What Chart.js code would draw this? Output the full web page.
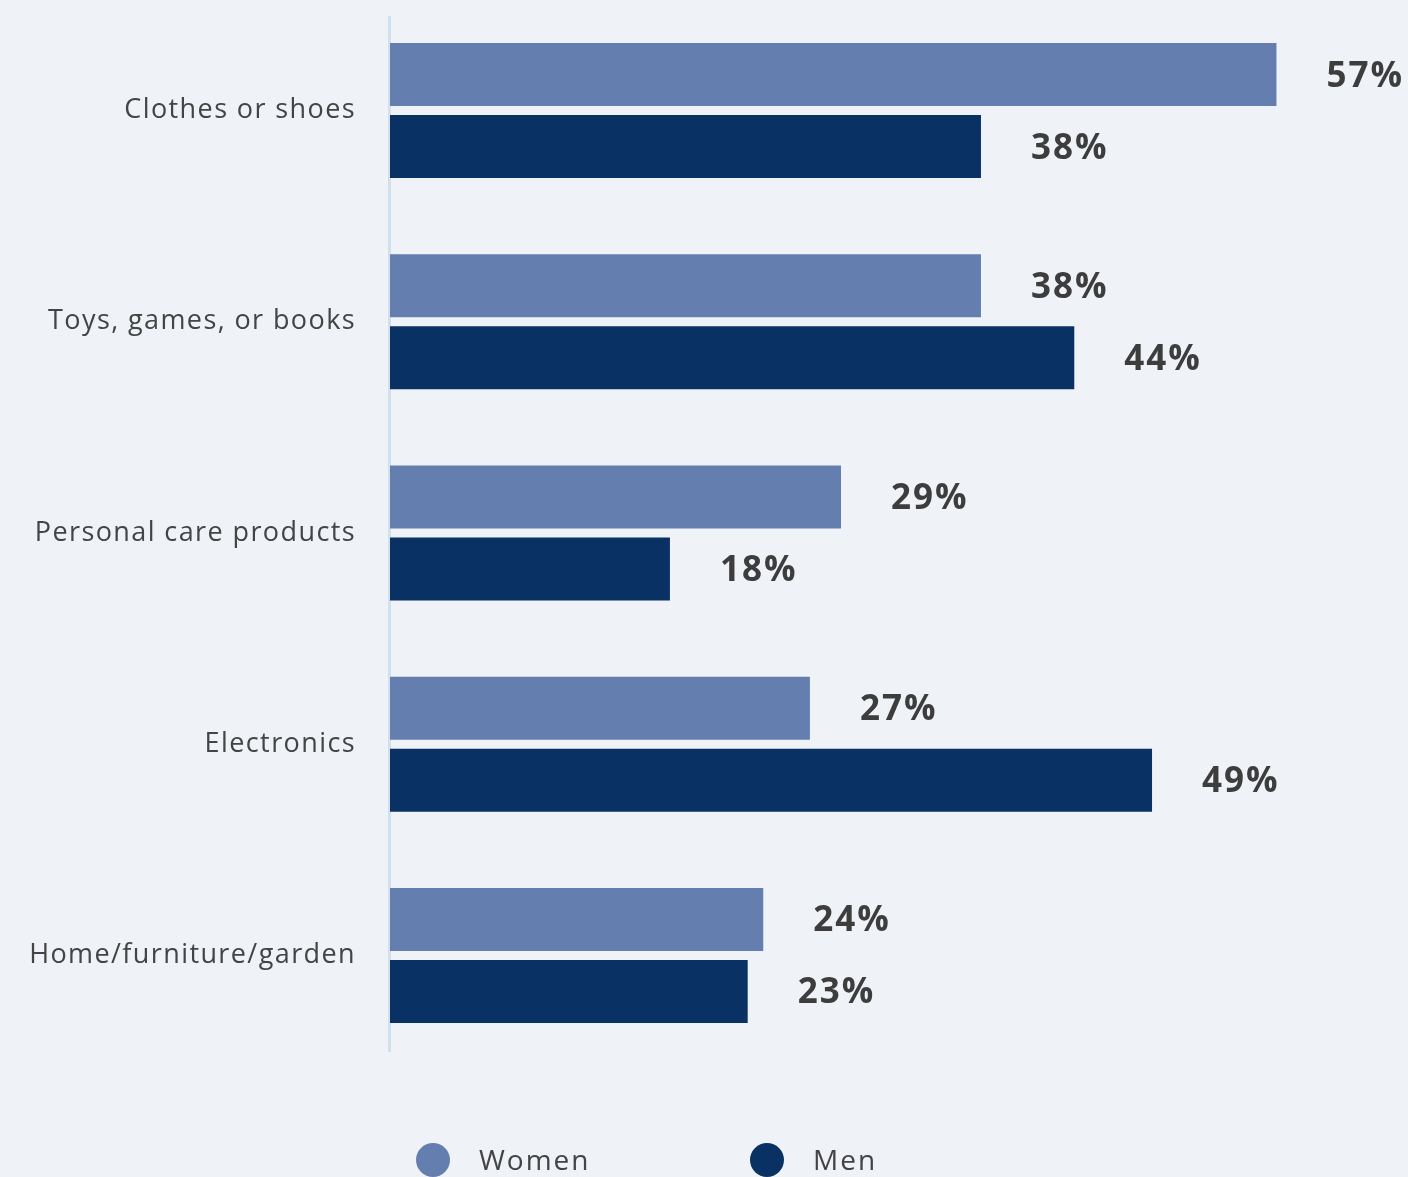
<!DOCTYPE html>
<html>
<head>
<meta charset="utf-8">
<script src="https://cdn.jsdelivr.net/npm/chart.js@4.4.1/dist/chart.umd.min.js"></script>
<style>
  html, body { margin: 0; padding: 0; background: #eff2f7; }
  #wrap { width: 1408px; height: 1177px; position: relative; }
</style>
</head>
<body>
<div id="wrap"><canvas id="c" width="1408" height="1177"></canvas></div>
<script>
const categories = ["Clothes or shoes", "Toys, games, or books", "Personal care products", "Electronics", "Home/furniture/garden"];
const women = [57, 38, 29, 27, 24];
const men = [38, 44, 18, 49, 23];
const seriesNames = ["Women", "Men"];
const seriesColors = ["#647eaf", "#0a3164"];

const LABEL_FONT = "'Open Sans', sans-serif";

const spacing = {
  id: 'spacing',
  beforeDraw(chart) { chart.ctx.letterSpacing = "1.4px"; },
  afterDraw(chart) { chart.ctx.letterSpacing = "0px"; }
};

const valueLabels = {
  id: 'valueLabels',
  afterDatasetsDraw(chart) {
    const ctx = chart.ctx;
    ctx.save();
    ctx.letterSpacing = "2px";
    ctx.font = "bold 35px " + LABEL_FONT;
    ctx.fillStyle = "#3d3d3d";
    ctx.textAlign = "left";
    ctx.textBaseline = "middle";
    chart.data.datasets.forEach((ds, di) => {
      const meta = chart.getDatasetMeta(di);
      meta.data.forEach((bar, i) => {
        ctx.fillText(ds.data[i] + "%", bar.x + 50, bar.y + 2);
      });
    });
    ctx.restore();
  }
};

const axisLine = {
  id: 'axisLine',
  beforeDatasetsDraw(chart) {
    const a = chart.chartArea;
    const ctx = chart.ctx;
    ctx.save();
    ctx.strokeStyle = "#d2e0ed";
    ctx.lineWidth = 3;
    ctx.beginPath();
    ctx.moveTo(a.left - 0.5, a.top + 11);
    ctx.lineTo(a.left - 0.5, a.bottom - 9);
    ctx.stroke();
    ctx.restore();
  }
};

const customLegend = {
  id: 'customLegend',
  afterDraw(chart) {
    const ctx = chart.ctx;
    ctx.save();
    ctx.letterSpacing = "2px";
    ctx.font = "28px " + LABEL_FONT;
    ctx.textBaseline = "middle";
    ctx.textAlign = "left";
    const y = 1160;
    const xs = [433, 767];
    chart.data.datasets.forEach((ds, i) => {
      ctx.fillStyle = ds.backgroundColor;
      ctx.beginPath();
      ctx.arc(xs[i], y, 17, 0, Math.PI * 2);
      ctx.fill();
      ctx.fillStyle = "#444444";
      ctx.fillText(ds.label, xs[i] + 46, y + 2);
    });
    ctx.restore();
  }
};

new Chart(document.getElementById('c'), {
  type: 'bar',
  data: {
    labels: categories,
    datasets: [
      { label: seriesNames[0], data: women, backgroundColor: seriesColors[0] },
      { label: seriesNames[1], data: men, backgroundColor: seriesColors[1] }
    ]
  },
  options: {
    indexAxis: 'y',
    responsive: false,
    animation: false,
    categoryPercentage: 0.682,
    barPercentage: 0.875,
    layout: { padding: { top: 5, bottom: 116, right: 116, left: 0 } },
    plugins: {
      legend: { display: false },
      tooltip: { enabled: false }
    },
    scales: {
      x: {
        display: false,
        min: 0,
        max: 58
      },
      y: {
        afterFit(scale) { scale.width = 390; scale.paddingTop = 0; scale.paddingBottom = 0; },
        grid: { display: false, drawTicks: false, tickLength: 0 },
        border: { display: false },
        ticks: {
          padding: 34,
          color: "#444444",
          font: { family: LABEL_FONT, size: 27 }
        }
      }
    }
  },
  plugins: [spacing, valueLabels, axisLine, customLegend]
});
</script>
</body>
</html>
